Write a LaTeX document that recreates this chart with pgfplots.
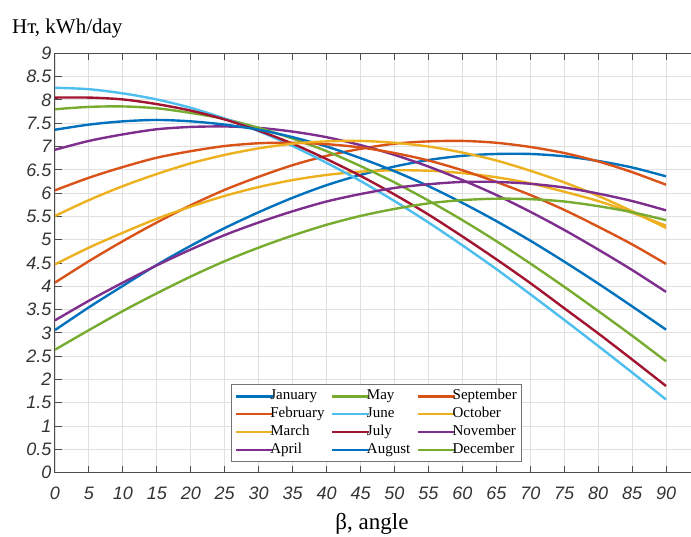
\documentclass[border=0pt]{standalone}
\usepackage{fontspec}
\setmainfont{Liberation Serif}
\newfontfamily\ticksf{Liberation Sans}
\usepackage{pgfplots}
\usepackage{pgfplotstable}
\pgfplotsset{compat=1.18}
\definecolor{mb}{HTML}{0072BD}
\definecolor{mo}{HTML}{D95319}
\definecolor{my}{HTML}{EDB120}
\definecolor{mp}{HTML}{7E2F8E}
\definecolor{mg}{HTML}{77AC30}
\definecolor{mc}{HTML}{4DBEEE}
\definecolor{mr}{HTML}{A2142F}
\pgfplotstableread{
b  Jan  Feb  Mar  Apr  May  Jun  Jul  Aug  Sep  Oct  Nov  Dec
0  3.06 4.08 4.47 6.93 7.80 8.26 8.05 7.36 6.06 5.51 3.27 2.64
5  3.55 4.54 4.83 7.12 7.85 8.23 8.05 7.47 6.33 5.85 3.69 3.06
10 4.01 4.97 5.15 7.26 7.86 8.14 8.01 7.54 6.56 6.15 4.08 3.47
15 4.46 5.37 5.45 7.37 7.82 8.01 7.91 7.57 6.76 6.41 4.45 3.85
20 4.87 5.74 5.71 7.42 7.72 7.83 7.77 7.54 6.90 6.64 4.79 4.21
25 5.25 6.07 5.94 7.43 7.59 7.60 7.58 7.47 7.01 6.82 5.10 4.54
30 5.59 6.35 6.13 7.40 7.40 7.33 7.34 7.36 7.07 6.96 5.37 4.83
35 5.90 6.60 6.28 7.32 7.17 7.01 7.06 7.20 7.08 7.06 5.61 5.09
40 6.17 6.80 6.39 7.20 6.90 6.65 6.73 7.00 7.05 7.11 5.82 5.32
45 6.39 6.95 6.46 7.03 6.58 6.26 6.37 6.75 6.98 7.12 5.98 5.51
50 6.57 7.06 6.49 6.82 6.23 5.83 5.97 6.47 6.86 7.08 6.11 5.66
55 6.71 7.11 6.48 6.57 5.84 5.37 5.54 6.15 6.70 7.00 6.19 5.78
60 6.80 7.12 6.43 6.28 5.42 4.88 5.07 5.79 6.49 6.87 6.24 5.85
65 6.84 7.08 6.34 5.96 4.97 4.37 4.58 5.40 6.24 6.70 6.24 5.88
70 6.84 6.99 6.21 5.60 4.49 3.83 4.07 4.98 5.96 6.48 6.20 5.87
75 6.79 6.86 6.03 5.21 3.99 3.28 3.53 4.53 5.64 6.23 6.12 5.82
80 6.69 6.68 5.83 4.79 3.47 2.72 2.99 4.06 5.28 5.94 5.99 5.72
85 6.55 6.45 5.58 4.35 2.94 2.15 2.43 3.57 4.90 5.61 5.83 5.59
90 6.36 6.18 5.30 3.88 2.39 1.57 1.86 3.07 4.48 5.25 5.63 5.42
}\data
\begin{document}
\begin{tikzpicture}
\begin{axis}[
  scale only axis, width=645pt, height=419.4pt,
  xmin=0, xmax=95, ymin=0, ymax=9,
  xtick={0,5,10,15,20,25,30,35,40,45,50,55,60,65,70,75,80,85,90},
  ytick={0,0.5,1,1.5,2,2.5,3,3.5,4,4.5,5,5.5,6,6.5,7,7.5,8,8.5,9},
  grid=major,
  major grid style={draw=black!12, line width=0.9pt},
  axis line style={draw=black!70, line width=1pt},
  major tick length=7pt,
  tick style={draw=black!70, line width=1pt},
  /pgf/number format/assume math mode=true,
  tick label style={font=\ticksf\itshape\fontsize{18}{18}\selectfont, text=black!80},
  xticklabel style={yshift=-11pt},
  yticklabel style={xshift=0pt},
  legend image code/.code={%
    \draw[#1, line width=2.4pt] (0pt,0pt) -- (32pt,0pt);
    \draw[#1, line width=2.4pt, overlay] (31pt,0pt) -- (37pt,0pt);},
  legend columns=3,
  legend cell align=left,
  legend style={at={(0.273,0.0255)}, anchor=south west,
    draw=black!55, line width=0.8pt, fill=white,
    font=\fontsize{15}{15}\selectfont,
    inner xsep=3pt, inner ysep=3pt,
    nodes={inner sep=1.5pt, text height=11pt, text depth=3.8pt},
    /tikz/every even column/.append style={column sep=5pt}},
  every axis plot/.append style={line width=2.4pt, smooth, tension=0.5},
]
\addplot[mb, forget plot] table[x=b, y=Jan] {\data};
\addplot[mo, forget plot] table[x=b, y=Feb] {\data};
\addplot[my, forget plot] table[x=b, y=Mar] {\data};
\addplot[mp, forget plot] table[x=b, y=Apr] {\data};
\addplot[mg, forget plot] table[x=b, y=May] {\data};
\addplot[mc, forget plot] table[x=b, y=Jun] {\data};
\addplot[mr, forget plot] table[x=b, y=Jul] {\data};
\addplot[mb, forget plot] table[x=b, y=Aug] {\data};
\addplot[mo, forget plot] table[x=b, y=Sep] {\data};
\addplot[my, forget plot] table[x=b, y=Oct] {\data};
\addplot[mp, forget plot] table[x=b, y=Nov] {\data};
\addplot[mg, forget plot] table[x=b, y=Dec] {\data};
\addlegendimage{mb}\addlegendentry{January}
\addlegendimage{mg}\addlegendentry{May}
\addlegendimage{mo}\addlegendentry{September}
\addlegendimage{mo}\addlegendentry{February}
\addlegendimage{mc}\addlegendentry{June}
\addlegendimage{my}\addlegendentry{October}
\addlegendimage{my}\addlegendentry{March}
\addlegendimage{mr}\addlegendentry{July}
\addlegendimage{mp}\addlegendentry{November}
\addlegendimage{mp}\addlegendentry{April}
\addlegendimage{mb}\addlegendentry{August}
\addlegendimage{mg}\addlegendentry{December}
\end{axis}
\node[anchor=base west, inner sep=0pt, font=\fontsize{21}{21}\selectfont] at (-43pt,438.7pt) {Hт, kWh/day};
\node[anchor=base, inner sep=0pt, font=\fontsize{23}{23}\selectfont] at (317pt,-56.3pt) {β, angle};
\pgfresetboundingbox
\useasboundingbox (-55pt,-63.3pt) rectangle (636pt,472.7pt);
\end{tikzpicture}
\end{document}
